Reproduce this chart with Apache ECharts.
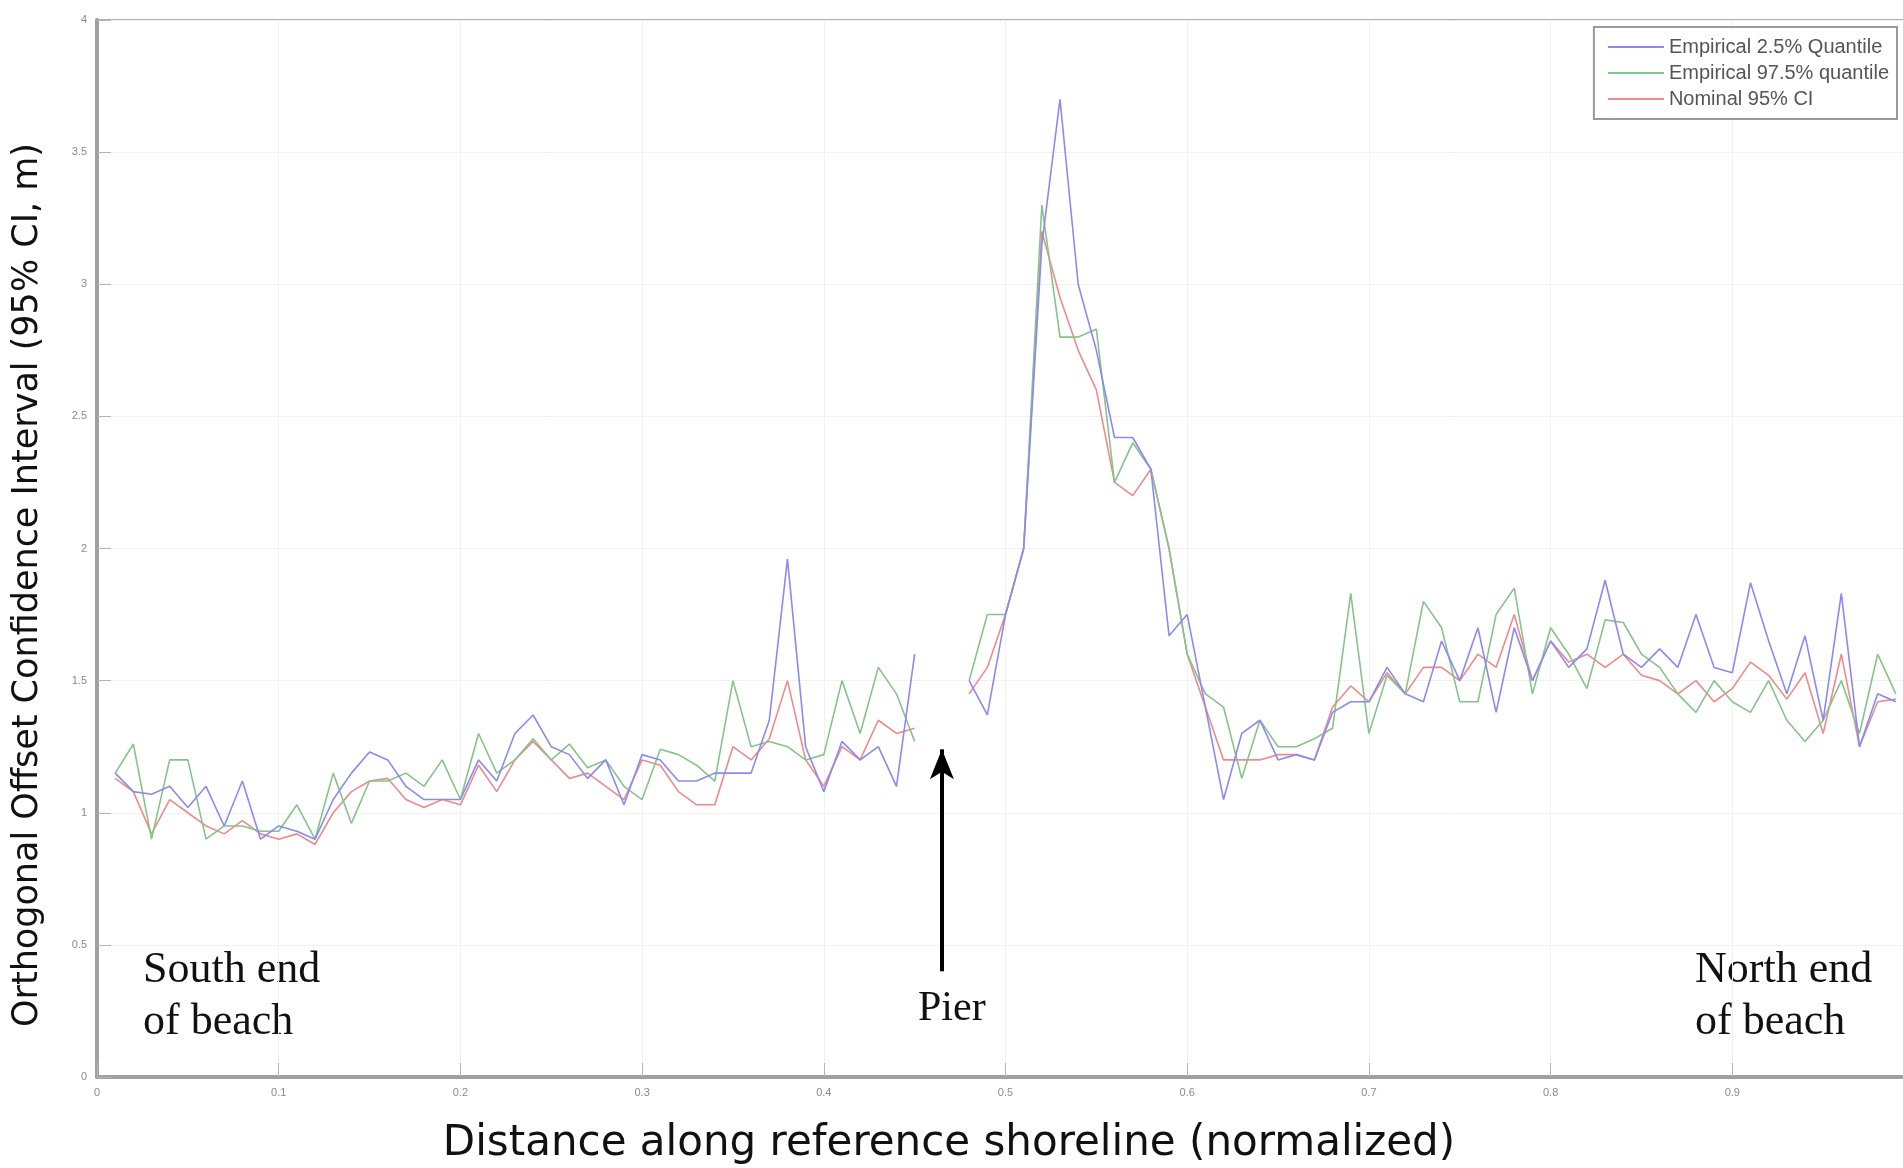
<!DOCTYPE html>
<html>
<head>
<meta charset="utf-8">
<title>Orthogonal offset confidence interval</title>
<script src="https://cdn.jsdelivr.net/npm/echarts@6/dist/echarts.min.js"></script>
<style>
  html, body { margin: 0; padding: 0; background: #fff; }
  #chart { width: 1903px; height: 1168px; }
</style>
</head>
<body>
<div id="chart"></div>
<script>
// distance along shoreline (normalized); 0.46 and 0.47 are the pier gap
const distance = [
  0.01, 0.02, 0.03, 0.04, 0.05, 0.06, 0.07, 0.08, 0.09, 0.10,
  0.11, 0.12, 0.13, 0.14, 0.15, 0.16, 0.17, 0.18, 0.19, 0.20,
  0.21, 0.22, 0.23, 0.24, 0.25, 0.26, 0.27, 0.28, 0.29, 0.30,
  0.31, 0.32, 0.33, 0.34, 0.35, 0.36, 0.37, 0.38, 0.39, 0.40,
  0.41, 0.42, 0.43, 0.44, 0.45, 0.46, 0.47, 0.48, 0.49, 0.50,
  0.51, 0.52, 0.53, 0.54, 0.55, 0.56, 0.57, 0.58, 0.59, 0.60,
  0.61, 0.62, 0.63, 0.64, 0.65, 0.66, 0.67, 0.68, 0.69, 0.70,
  0.71, 0.72, 0.73, 0.74, 0.75, 0.76, 0.77, 0.78, 0.79, 0.80,
  0.81, 0.82, 0.83, 0.84, 0.85, 0.86, 0.87, 0.88, 0.89, 0.90,
  0.91, 0.92, 0.93, 0.94, 0.95, 0.96, 0.97, 0.98, 0.99
];

const empirical25 = [
  1.15, 1.08, 1.07, 1.10, 1.02, 1.10, 0.95, 1.12, 0.90, 0.95,
  0.93, 0.90, 1.05, 1.15, 1.23, 1.20, 1.10, 1.05, 1.05, 1.05,
  1.20, 1.12, 1.30, 1.37, 1.25, 1.22, 1.13, 1.20, 1.03, 1.22,
  1.20, 1.12, 1.12, 1.15, 1.15, 1.15, 1.35, 1.96, 1.25, 1.08,
  1.27, 1.20, 1.25, 1.10, 1.60, null, null, 1.50, 1.37, 1.75,
  2.00, 3.15, 3.70, 3.00, 2.75, 2.42, 2.42, 2.30, 1.67, 1.75,
  1.40, 1.05, 1.30, 1.35, 1.20, 1.22, 1.20, 1.38, 1.42, 1.42,
  1.55, 1.45, 1.42, 1.65, 1.50, 1.70, 1.38, 1.70, 1.50, 1.65,
  1.55, 1.62, 1.88, 1.60, 1.55, 1.62, 1.55, 1.75, 1.55, 1.53,
  1.87, 1.65, 1.45, 1.67, 1.35, 1.83, 1.25, 1.45, 1.42
];

const empirical975 = [
  1.15, 1.26, 0.90, 1.20, 1.20, 0.90, 0.95, 0.95, 0.93, 0.93,
  1.03, 0.90, 1.15, 0.96, 1.12, 1.12, 1.15, 1.10, 1.20, 1.05,
  1.30, 1.15, 1.20, 1.28, 1.20, 1.26, 1.17, 1.20, 1.10, 1.05,
  1.24, 1.22, 1.18, 1.12, 1.50, 1.25, 1.27, 1.25, 1.20, 1.22,
  1.50, 1.30, 1.55, 1.45, 1.27, null, null, 1.50, 1.75, 1.75,
  2.00, 3.30, 2.80, 2.80, 2.83, 2.25, 2.40, 2.30, 2.00, 1.60,
  1.45, 1.40, 1.13, 1.35, 1.25, 1.25, 1.28, 1.32, 1.83, 1.30,
  1.52, 1.45, 1.80, 1.70, 1.42, 1.42, 1.75, 1.85, 1.45, 1.70,
  1.60, 1.47, 1.73, 1.72, 1.60, 1.55, 1.45, 1.38, 1.50, 1.42,
  1.38, 1.50, 1.35, 1.27, 1.35, 1.50, 1.30, 1.60, 1.45
];

const nominal95 = [
  1.13, 1.08, 0.92, 1.05, 1.00, 0.95, 0.92, 0.97, 0.92, 0.90,
  0.92, 0.88, 1.00, 1.08, 1.12, 1.13, 1.05, 1.02, 1.05, 1.03,
  1.18, 1.08, 1.20, 1.27, 1.20, 1.13, 1.15, 1.10, 1.05, 1.20,
  1.18, 1.08, 1.03, 1.03, 1.25, 1.20, 1.28, 1.50, 1.20, 1.10,
  1.25, 1.20, 1.35, 1.30, 1.32, null, null, 1.45, 1.55, 1.75,
  2.00, 3.20, 2.95, 2.75, 2.60, 2.25, 2.20, 2.30, 2.00, 1.60,
  1.40, 1.20, 1.20, 1.20, 1.22, 1.22, 1.20, 1.40, 1.48, 1.42,
  1.53, 1.45, 1.55, 1.55, 1.50, 1.60, 1.55, 1.75, 1.50, 1.65,
  1.57, 1.60, 1.55, 1.60, 1.52, 1.50, 1.45, 1.50, 1.42, 1.47,
  1.57, 1.52, 1.43, 1.53, 1.30, 1.60, 1.25, 1.42, 1.43
];

const seriesNames = ['Empirical 2.5% Quantile', 'Empirical 97.5% quantile', 'Nominal 95% CI'];
const seriesColors = ['#8a8af2', '#86c489', '#f08a8a'];

const pair = function (values) {
  return distance.map(function (d, i) {
    return [d, values[i]];
  });
};

const chart = echarts.init(document.getElementById('chart'));

const lineSeries = [empirical25, empirical975, nominal95].map(function (vals, i) {
  return {
    name: seriesNames[i],
    type: 'line',
    data: pair(vals),
    symbol: 'none',
    connectNulls: false,
    animation: false,
    z: 3 - i,
    lineStyle: { color: seriesColors[i], width: 1.6 },
    itemStyle: { color: seriesColors[i] }
  };
});

// pier arrow, drawn in data units
lineSeries[2].markLine = {
  silent: true,
  animation: false,
  symbol: ['none', 'arrow'],
  symbolSize: [18, 30],
  label: { show: false },
  lineStyle: { color: '#000', width: 4, type: 'solid' },
  data: [[{ coord: [0.465, 0.4] }, { coord: [0.465, 1.24] }]]
};

const annoFont = '"Liberation Serif", "DejaVu Serif", serif';

const option = {
  backgroundColor: '#fff',
  animation: false,
  grid: {
    left: 97,
    right: -11,
    top: 20,
    bottom: 91,
    outerBoundsMode: 'none',
    containLabel: false,
    show: true,
    borderColor: '#b0b0b0',
    borderWidth: 2
  },
  legend: {
    orient: 'vertical',
    right: 6,
    top: 27,
    itemWidth: 56,
    itemHeight: 2,
    itemGap: 6,
    padding: [10, 8, 10, 14],
    backgroundColor: '#fff',
    borderColor: '#9a9a9a',
    borderWidth: 2,
    borderRadius: 0,
    textStyle: { fontFamily: 'Liberation Sans', fontSize: 20, color: '#555' },
    data: seriesNames.map(function (n) {
      return { name: n, icon: 'rect' };
    })
  },
  xAxis: {
    type: 'value',
    min: 0,
    max: 1,
    interval: 0.1,
    axisLine: { lineStyle: { color: '#a0a0a0', width: 4 } },
    axisTick: { inside: true, length: 14, lineStyle: { color: '#b5b5b5', width: 1 } },
    axisLabel: { fontFamily: 'Liberation Sans', fontSize: 11, color: '#8a8a8a', margin: 10 },
    splitLine: { show: true, lineStyle: { color: '#f1f1f1', width: 1 } }
  },
  yAxis: {
    type: 'value',
    min: 0,
    max: 4,
    interval: 0.5,
    axisLine: { show: true, lineStyle: { color: '#a0a0a0', width: 4 } },
    axisTick: { show: true, inside: true, length: 14, lineStyle: { color: '#b5b5b5', width: 1 } },
    axisLabel: { fontFamily: 'Liberation Sans', fontSize: 11, color: '#8a8a8a', margin: 10 },
    splitLine: { show: true, lineStyle: { color: '#f1f1f1', width: 1 } }
  },
  graphic: [
    {
      type: 'text',
      x: 28,
      y: 585,
      rotation: Math.PI / 2,
      style: {
        text: 'Orthogonal Offset Confidence Interval (95% CI, m)',
        font: '35px "DejaVu Sans"',
        fill: '#111',
        align: 'center',
        verticalAlign: 'middle'
      }
    },
    {
      type: 'text',
      x: 949,
      y: 1144,
      style: {
        text: 'Distance along reference shoreline (normalized)',
        font: '42px "DejaVu Sans"',
        fill: '#111',
        align: 'center',
        verticalAlign: 'middle'
      }
    },
    {
      type: 'text',
      left: 143,
      top: 944,
      style: { text: 'South end\nof beach', font: '44px ' + annoFont, fill: '#111', lineHeight: 52 }
    },
    {
      type: 'text',
      left: 1695,
      top: 944,
      style: { text: 'North end\nof beach', font: '44px ' + annoFont, fill: '#111', lineHeight: 52 }
    },
    {
      type: 'text',
      left: 918,
      top: 988,
      style: { text: 'Pier', font: '42px ' + annoFont, fill: '#111' }
    }
  ],
  series: lineSeries
};

chart.setOption(option);
</script>
</body>
</html>
